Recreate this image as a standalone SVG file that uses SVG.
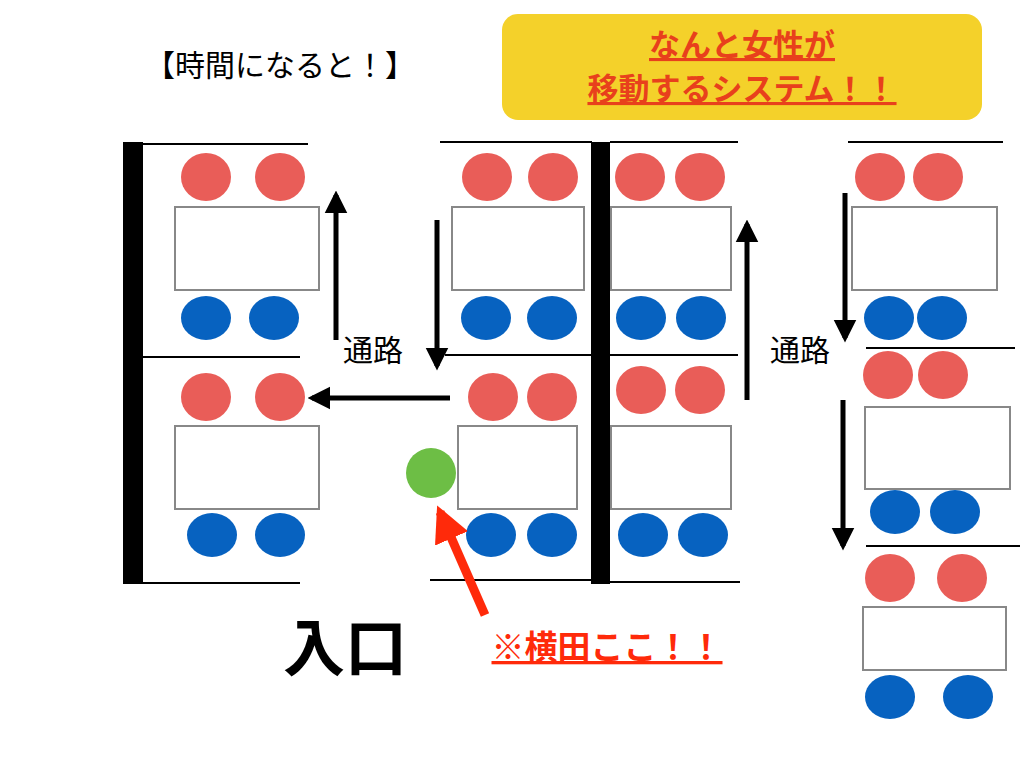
<svg xmlns="http://www.w3.org/2000/svg" width="1024" height="768" viewBox="0 0 1024 768">
<style>
text{font-family:"Noto Sans CJK JP","Liberation Sans",sans-serif}
.r{fill:#E95D58}.b{fill:#0762C0}.t{fill:#fff;stroke:#888;stroke-width:2}
.l{stroke:#000;stroke-width:2}.bar{fill:#000}
.a{stroke:#000;stroke-width:5;fill:none}
</style>
<defs><marker id="ah" viewBox="0 0 10 10" refX="8" refY="5" markerWidth="4.5" markerHeight="5" orient="auto" markerUnits="strokeWidth"><path d="M0,0L10,5L0,10z" fill="#000"/></marker>
<marker id="ahr" viewBox="0 0 10 10" refX="8" refY="5" markerWidth="4" markerHeight="4" orient="auto" markerUnits="strokeWidth"><path d="M0,0L10,5L0,10z" fill="#FF2A0A"/></marker></defs>
<rect width="1024" height="768" fill="#fff"/>
<text x="145" y="76" font-size="30">【時間になると！】</text>
<g id="banner"><rect x="502" y="14" width="480" height="106" rx="16" fill="#F4D12A"/>
<text x="742" y="56" font-size="31" font-weight="bold" fill="#E8401C" text-anchor="middle" text-decoration="underline">なんと女性が</text>
<text x="742" y="100" font-size="31" font-weight="bold" fill="#E8401C" text-anchor="middle" text-decoration="underline">移動するシステム！！</text></g>
<g id="walls">
<rect class="bar" x="123" y="142" width="20" height="442"/><rect class="bar" x="591" y="142" width="19" height="442"/>
<path class="l" d="M143 144H308M143 357H300M143 583H300M440 142H592M445 355H592M430 580H592M610 142H738M610 355H738M610 582H740M848 142H1003M866 348H1015M866 546H1020"/>
</g>
<g id="tables">
<rect class="t" x="175" y="207" width="144" height="83"/><rect class="t" x="452" y="207" width="132" height="83"/>
<rect class="t" x="611" y="207" width="120" height="83"/><rect class="t" x="852" y="207" width="145" height="83"/>
<rect class="t" x="175" y="426" width="144" height="83"/><rect class="t" x="458" y="426" width="119" height="83"/>
<rect class="t" x="611" y="426" width="120" height="83"/><rect class="t" x="865" y="407" width="145" height="82"/>
<rect class="t" x="863" y="607" width="143" height="63"/>
</g>
<g id="women">
<ellipse class="r" cx="206" cy="177" rx="25" ry="24"/><ellipse class="r" cx="280" cy="177" rx="25" ry="24"/>
<ellipse class="r" cx="487" cy="177" rx="25" ry="24"/><ellipse class="r" cx="553" cy="177" rx="25" ry="24"/>
<ellipse class="r" cx="640" cy="177" rx="25" ry="24"/><ellipse class="r" cx="700" cy="177" rx="25" ry="24"/>
<ellipse class="r" cx="880" cy="177" rx="25" ry="24"/><ellipse class="r" cx="938" cy="177" rx="25" ry="24"/>
<ellipse class="r" cx="206" cy="397" rx="25" ry="24"/><ellipse class="r" cx="280" cy="397" rx="25" ry="24"/>
<ellipse class="r" cx="493" cy="397" rx="25" ry="24"/><ellipse class="r" cx="552" cy="397" rx="25" ry="24"/>
<ellipse class="r" cx="641" cy="390" rx="25" ry="24"/><ellipse class="r" cx="700" cy="390" rx="25" ry="24"/>
<ellipse class="r" cx="888" cy="375" rx="25" ry="24"/><ellipse class="r" cx="943" cy="375" rx="25" ry="24"/>
<ellipse class="r" cx="890" cy="578" rx="25" ry="24"/><ellipse class="r" cx="962" cy="578" rx="25" ry="24"/>
</g>
<g id="men">
<ellipse class="b" cx="206" cy="318" rx="25" ry="22"/><ellipse class="b" cx="274" cy="318" rx="25" ry="22"/>
<ellipse class="b" cx="486" cy="318" rx="25" ry="22"/><ellipse class="b" cx="552" cy="318" rx="25" ry="22"/>
<ellipse class="b" cx="641" cy="318" rx="25" ry="22"/><ellipse class="b" cx="701" cy="318" rx="25" ry="22"/>
<ellipse class="b" cx="889" cy="318" rx="25" ry="22"/><ellipse class="b" cx="942" cy="318" rx="25" ry="22"/>
<ellipse class="b" cx="212" cy="535" rx="25" ry="22"/><ellipse class="b" cx="280" cy="535" rx="25" ry="22"/>
<ellipse class="b" cx="491" cy="535" rx="25" ry="22"/><ellipse class="b" cx="552" cy="535" rx="25" ry="22"/>
<ellipse class="b" cx="643" cy="535" rx="25" ry="22"/><ellipse class="b" cx="703" cy="535" rx="25" ry="22"/>
<ellipse class="b" cx="895" cy="512" rx="25" ry="22"/><ellipse class="b" cx="955" cy="512" rx="25" ry="22"/>
<ellipse class="b" cx="890" cy="697" rx="25" ry="22"/><ellipse class="b" cx="968" cy="697" rx="25" ry="22"/>
</g>
<g id="yokota"><circle cx="431" cy="473" r="25" fill="#6DBE45"/></g>
<g id="connectors">
<path class="a" d="M336 340V195" marker-end="url(#ah)"/>
<path class="a" d="M437 220V366" marker-end="url(#ah)"/>
<path class="a" d="M450 398H312" marker-end="url(#ah)"/>
<path class="a" d="M747 400V224" marker-end="url(#ah)"/>
<path class="a" d="M845 193V338" marker-end="url(#ah)"/>
<path class="a" d="M843 400V546" marker-end="url(#ah)"/>
<path d="M485 615L440 512" stroke="#FF2A0A" stroke-width="9" fill="none" marker-end="url(#ahr)"/>
</g>
<text x="343" y="361" font-size="30">通路</text>
<text x="770" y="361" font-size="30">通路</text>
<text x="345" y="671" font-size="62" font-weight="bold" text-anchor="middle">入口</text>
<text x="607" y="659" font-size="33" font-weight="bold" fill="#FF2A0A" text-anchor="middle" text-decoration="underline">※横田ここ！！</text>
</svg>
